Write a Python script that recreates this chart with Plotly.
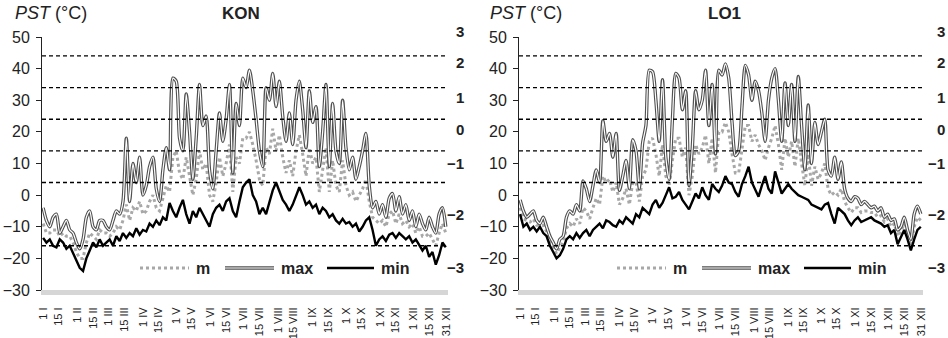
import plotly.graph_objects as go

W, H = 948, 338

days = list(range(1, 365, 3))  # sampled days of year

tick_days = [1, 15, 32, 46, 60, 74, 91, 105, 121, 135, 152, 166, 182, 196, 213, 227,
             244, 258, 274, 288, 305, 319, 335, 349, 365]
tick_text = ["1 I", "15 I", "1 II", "15 II", "1 III", "15 III", "1 IV", "15 IV", "1 V", "15 V",
             "1 VI", "15 VI", "1 VII", "15 VII", "1 VIII", "15 VIII", "1 IX", "15 IX", "1 X",
             "15 X", "1 XI", "15 XI", "1 XII", "15 XII", "31 XII"]

class_thresholds = [44, 34, 24, 14, 4, -16]
class_labels = ["3", "2", "1", "0", "\u22121", "\u22122", "\u22123"]
class_label_y = [51.6, 41.8, 31.0, 20.9, 10.1, -6.0, -22.8]

kon_max = [-4, -8, -10, -7, -6, -12, -10, -8, -11, -12,
           -15, -17, -14, -7, -5, -10, -11, -8, -8, -10,
           -11, -8, -5, -6, -2, 18, -2, 10, 4, 12,
           0, 3, 9, 12, 2, -2, 8, 15, 8, 37,
           36, 18, 14, 32, 20, 5, 18, 35, 22, 25,
           8, 2, 14, 26, 17, 24, 35, 7, 29, 22,
           37, 34, 39.5, 33, 24, 14, 9, 34, 30, 38.5,
           28, 36, 25, 17, 26, 16, 30, 36, 27, 15,
           33, 23, 28, 9, 20, 35, 9, 29, 14, 10,
           30, 15, 8, 12, 5, 9, 14, 19.5, 3, -4,
           -2, -6, -3, -7, -1, 0.5, -5, -0.5, -6, -3,
           -8, -5, -10, -6, -9, -11, -7, -10, -12, -6,
           -4, -10]
kon_min = [-13.5, -15, -14, -16, -16.5, -14, -15, -17, -16, -18.5,
           -21, -23, -24, -20, -17.5, -15, -16.5, -14, -16, -15,
           -14, -16, -13, -14.5, -12, -13.5, -12, -13, -10.5, -12.5,
           -11, -11.5, -9, -10, -8, -9.5, -7, -8, -2.5, -5,
           -7, -4, -1.5, -6, -9, -5, -7, -4, -6, -8,
           -10, -6, -4, -3, -5, -2, -1, -5, -7, -2,
           2.5, 4, 5, 0, -2, -6, -4, -6, -2, 1.5,
           4, 1, -1.5, -3, -5, -3, 0, 2.5, 0, -3,
           -2, -4, -3, -6, -4, -5, -7, -6, -8, -9,
           -7.5, -9, -8.5, -10, -9, -11.5, -10, -8, -7, -11,
           -16, -14, -13, -14.5, -12.5, -12, -13.5, -12, -13, -14,
           -13, -15, -14, -16, -17.5, -16, -19.5, -18, -22, -19,
           -15, -16.5]
kon_m = [-9, -12, -12, -11, -11, -13, -12, -13, -13, -15,
         -18, -20, -20, -15, -12, -13, -14, -11, -12, -12,
         -13, -12, -10, -11, -8, -3, -8, -4, -5, -2,
         -6, -5, -2, 0, -4, -5, -1, 3, 1, 12,
         14, 7, 5, 12, 6, 0, 5, 14, 8, 10,
         0, -2, 4, 12, 6, 10, 16, 1, 12, 10,
         18, 18, 20, 16, 11, 5, 3, 15, 13, 21,
         14, 19, 12, 7, 11, 6, 14, 19, 13, 6,
         15, 10, 12, 1, 8, 15, 1, 11, 3, 1,
         11, 3, 0, 1, -2, 0, 2, 5, -2, -7,
         -8, -9, -8, -10, -6, -5, -9, -6, -9, -8,
         -10, -9, -12, -10, -13, -13, -12, -14, -16, -12,
         -9, -12]

lo1_max = [-1.5, -5, -7, -6, -5, -8, -9, -7, -10, -13,
           -15, -17, -14, -13, -7, -5, -6, -3, -5, 4.5,
           2, -2, 3, 8, 4, 23.5, 17, 19.5, 12, 19.5,
           1.5, 6, 11, 2, 17.5, 14, 2, 16.5, 22, 39.5,
           39, 30, 17, 36.5, 12, 5, 24, 38.5, 37, 27,
           33, 3, 15, 33, 27, 30, 39.5, 22, 35, 13,
           39.5, 38, 41.5, 37, 23, 12.5, 14, 28, 41, 38,
           30, 36, 33, 26, 17, 30, 37, 40, 30, 17,
           35.5, 22, 35, 17, 37.5, 22, 8, 28.5, 10, 23,
           16, 20, 24, 8, 6, 12, 5, 10.5, 2, -1,
           -2, -0.5, -1, -3, -2, -3, -4, -3.5, -5, -4,
           -7, -6, -8, -7.5, -11, -10, -7, -11, -14, -6,
           -3.5, -6]
lo1_min = [-6, -10, -9, -11, -10, -11.5, -10, -12, -13, -16,
           -18, -20, -19, -17, -14, -13, -14, -12, -13.5, -12,
           -11, -13, -11, -10, -9, -10.5, -8, -8.5, -9.5, -10,
           -8, -9, -7, -8, -9, -6, -7, -4, -5, -6,
           -3, -1.5, -4, -2.5, 0, 2.5, -1, -0.5, 1, -1.5,
           -3, -4.5, -2, 0.5, -1, 2.5, 0, -1.5, 3.5, 2,
           1, 3, 6, 4, 3.5, 1, -0.5, 3.5, 6, 9,
           4, 2, -0.5, 3, 6, 2, 0.5, 7.5, 4, 0.5,
           2, 3.5, 2, 1, 0, -0.5, -1, -1.5, -3, -3.5,
           -4, -4.5, -3, -2.5, -6, -9, -4, -5, -6, -8,
           -9.5, -8, -7, -8.5, -8, -7.5, -7, -8, -8.5, -9,
           -10, -9.5, -12, -11, -15.5, -13, -11, -14, -17.5, -14,
           -11, -10]
lo1_m = [-4, -7.5, -8, -8.5, -7.5, -9.5, -9.5, -9.5, -11.5, -14.5,
         -16.5, -18.5, -16.5, -15, -10.5, -9, -10, -7.5, -9, -4,
         -5, -7.5, -4, -1, -3, 6, 4, 5, 1, 4,
         -3, -1, 2, -3, 4, 4, -2, 6, 8, 17,
         18, 13, 6, 16, 6, 3, 11, 18, 18, 12,
         15, 0, 6, 16, 13, 15, 19, 10, 18, 7,
         20, 20, 23, 20, 13, 7, 7, 15, 22, 22,
         17, 19, 16, 14, 11, 15, 18, 22, 16, 8,
         18, 12, 17, 9, 18, 10, 3, 13, 3, 9,
         5, 7, 10, 2, 0, 1, 0, 2, -2, -4,
         -5.5, -4, -4, -5.5, -5, -5, -5.5, -5.5, -7, -6.5,
         -8.5, -7.5, -10, -9, -13, -11.5, -9, -12.5, -16, -10,
         -7, -8]

panels = [
    {"name": "KON", "max": kon_max, "min": kon_min, "m": kon_m, "px0": 42, "px1": 448,
     "title_x": 241, "pst_x": 13, "cls_x": 466},
    {"name": "LO1", "max": lo1_max, "min": lo1_min, "m": lo1_m, "px0": 519, "px1": 923,
     "title_x": 724, "pst_x": 488, "cls_x": 947},
]

FONT = "Liberation Sans, Arial, sans-serif"
TOP_PX, BOT_PX = 37, 290
ydom = [1 - BOT_PX / H, 1 - TOP_PX / H]

def px(x):
    return x / W

def py(y):
    return 1 - y / H

def val_to_py(v):
    return TOP_PX + (50 - v) / 80 * (BOT_PX - TOP_PX)

fig = go.Figure()
shapes = []
annotations = []

for k, p in enumerate(panels):
    sfx = "" if k == 0 else str(k + 1)
    xa, ya = "x" + sfx, "y" + sfx
    fig.add_trace(go.Scatter(x=days, y=p["m"], mode="lines", xaxis=xa, yaxis=ya,
                             line=dict(color="#a8a8a8", width=3, dash="dot"), showlegend=False))
    fig.add_trace(go.Scatter(x=days, y=p["max"], mode="lines", xaxis=xa, yaxis=ya,
                             line=dict(color="#505050", width=3.4, shape="spline", smoothing=0.7),
                             showlegend=False))
    fig.add_trace(go.Scatter(x=days, y=p["max"], mode="lines", xaxis=xa, yaxis=ya,
                             line=dict(color="white", width=1.2, shape="spline", smoothing=0.7),
                             showlegend=False))
    fig.add_trace(go.Scatter(x=days, y=p["min"], mode="lines", xaxis=xa, yaxis=ya,
                             line=dict(color="black", width=2.4), showlegend=False))

    fig.update_layout(**{
        "xaxis" + sfx: dict(domain=[px(p["px0"]), px(p["px1"])], range=[0, 366], anchor=ya,
                            tickmode="array", tickvals=tick_days, ticktext=tick_text,
                            tickangle=-90, ticks="", showgrid=False, zeroline=False,
                            showline=True, linecolor="#d6d6d6", linewidth=5, automargin=False,
                            tickfont=dict(family=FONT, size=11, color="#222"),
                            ticklabelstandoff=8),
        "yaxis" + sfx: dict(domain=ydom, range=[-30, 50], anchor=xa, tickmode="array",
                            tickvals=[-30, -20, -10, 0, 10, 20, 30, 40, 50],
                            ticks="outside", ticklen=5, tickcolor="#222", showgrid=False,
                            zeroline=False, showline=True, linecolor="#222", linewidth=1,
                            automargin=False, ticklabelstandoff=3,
                            tickfont=dict(family=FONT, size=16, color="#222")),
    })

    for t in class_thresholds:
        shapes.append(dict(type="line", xref=xa + " domain", yref=ya, x0=0, x1=1, y0=t, y1=t,
                           line=dict(color="black", width=1.3, dash="4px,3px"), layer="above"))

    for lab, yv in zip(class_labels, class_label_y):
        annotations.append(dict(text="<b>" + lab + "</b>", xref="paper", yref="paper",
                                x=px(p["cls_x"]), y=py(val_to_py(yv)), xanchor="right",
                                yanchor="middle", showarrow=False,
                                font=dict(family=FONT, size=15, color="#222")))

    annotations.append(dict(text="<i>PST</i> (°C)", xref="paper", yref="paper", x=px(p["pst_x"]),
                            y=py(13), xanchor="left", yanchor="middle", showarrow=False,
                            font=dict(family=FONT, size=18, color="#222")))
    annotations.append(dict(text="<b>" + p["name"] + "</b>", xref="paper", yref="paper",
                            x=px(p["title_x"]), y=py(14), xanchor="center", yanchor="middle",
                            showarrow=False, font=dict(family=FONT, size=17, color="#222")))

    # legend
    ly = py(268)
    o = p["px0"] - 2
    shapes.append(dict(type="line", xref="paper", yref="paper", x0=px(o + 100), x1=px(o + 149),
                       y0=ly, y1=ly, line=dict(color="#a8a8a8", width=3, dash="dot")))
    shapes.append(dict(type="line", xref="paper", yref="paper", x0=px(o + 185), x1=px(o + 234),
                       y0=ly, y1=ly, line=dict(color="#505050", width=3.4)))
    shapes.append(dict(type="line", xref="paper", yref="paper", x0=px(o + 185), x1=px(o + 234),
                       y0=ly, y1=ly, line=dict(color="white", width=1.2)))
    shapes.append(dict(type="line", xref="paper", yref="paper", x0=px(o + 287), x1=px(o + 334),
                       y0=ly, y1=ly, line=dict(color="black", width=2.6)))
    for txt, xo in (("m", 154), ("max", 239), ("min", 339)):
        annotations.append(dict(text="<b>" + txt + "</b>", xref="paper", yref="paper",
                                x=px(o + xo), y=ly, xanchor="left", yanchor="middle",
                                showarrow=False, font=dict(family=FONT, size=16, color="#222")))

fig.update_layout(width=W, height=H, margin=dict(l=0, r=0, t=0, b=0, autoexpand=False),
                  paper_bgcolor="white", plot_bgcolor="white", showlegend=False,
                  shapes=shapes, annotations=annotations,
                  font=dict(family=FONT, color="#222"))

fig.write_html("out.html")
